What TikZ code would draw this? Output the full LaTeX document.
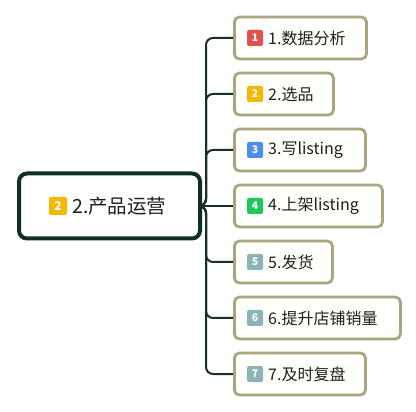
\documentclass[tikz,border=0pt]{standalone}
\usepackage{fontspec}
\usetikzlibrary{calc}
\setmainfont{Noto Sans CJK SC}
\definecolor{rootline}{RGB}{16,46,38}
\definecolor{conn}{RGB}{22,48,40}
\definecolor{boxline}{RGB}{168,165,128}
\definecolor{boxfill}{RGB}{255,255,251}
\definecolor{bRed}{RGB}{226,80,80}
\definecolor{bYel}{RGB}{245,184,0}
\definecolor{bBlue}{RGB}{74,140,240}
\definecolor{bGreen}{RGB}{30,200,90}
\definecolor{bGrey}{RGB}{138,180,184}
\definecolor{txt}{RGB}{30,30,30}
\tikzset{
  rootbox/.style={draw=rootline, line width=4pt, rounded corners=8pt, fill=white,
    minimum width=181pt, minimum height=65pt, anchor=west},
  childbox/.style={draw=boxline, line width=2.8pt, rounded corners=5pt, fill=boxfill,
    minimum height=42pt, anchor=west},
  badge/.style={rounded corners=2pt, minimum width=16pt, minimum height=16pt, inner sep=0pt,
    text=white, font=\fontsize{10.5}{12}\selectfont\bfseries},
  rootbadge/.style={badge, minimum width=18pt, minimum height=18pt, font=\fontsize{12}{14}\selectfont\bfseries},
  lbl/.style={anchor=west, inner sep=0pt, text=txt, font=\fontsize{16}{18}\selectfont},
  rootlbl/.style={anchor=west, inner sep=0pt, text=txt, font=\fontsize{19.5}{22}\selectfont},
  conline/.style={draw=conn, line width=2pt, rounded corners=7pt}
}
\begin{document}
\begin{tikzpicture}[x=1pt,y=-1pt]
\useasboundingbox[fill=white] (0,0) rectangle (416,412);
% root
\node[rootbox] (root) at (17,206) {};
\node[rootbadge, fill=bYel] (rb) at ($(root.west)+(41,0)$) {2};
\node[rootlbl] (rl) at ($(root.west)+(55,0)$) {2.产品运营};
\coordinate (trunk) at (206,206);
% children
\node[childbox, minimum width=132pt] (c1) at (233,38) {};
\node[childbox, minimum width=99pt]  (c2) at (233,94) {};
\node[childbox, minimum width=131pt] (c3) at (233,150) {};
\node[childbox, minimum width=148pt] (c4) at (233,206) {};
\node[childbox, minimum width=98pt]  (c5) at (233,262) {};
\node[childbox, minimum width=166pt] (c6) at (233,318) {};
\node[childbox, minimum width=131pt] (c7) at (233,374) {};
\foreach \i/\col/\t in {1/bRed/1.数据分析, 2/bYel/2.选品, 3/bBlue/3.写listing, 4/bGreen/4.上架listing, 5/bGrey/5.发货, 6/bGrey/6.提升店铺销量, 7/bGrey/7.及时复盘}{
  \node[badge, fill=\col] (b\i) at ($(c\i.west)+(22,0)$) {\i};
  \node[lbl] (l\i) at ($(c\i.west)+(35,0)$) {\t};
}
% connectors
\foreach \i in {1,2,3,5,6,7}{
  \path[conline] (root.east) -- (trunk) |- (c\i.west);
}
\draw[conn, line width=2pt] (root.east) -- (c4.west);
\end{tikzpicture}
\end{document}
